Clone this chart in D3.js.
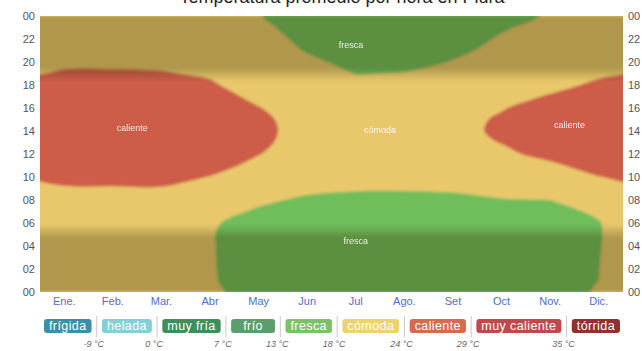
<!DOCTYPE html>
<html>
<head>
<meta charset="utf-8">
<script src="https://cdn.jsdelivr.net/npm/d3@7"></script>
<style>
  body { margin: 0; background: #fff; }
  text { font-family: "Liberation Sans", Arial, sans-serif; }
</style>
</head>
<body>
<svg id="chart"></svg>
<script>
var width = 642;
var height = 351;

var months = ["Ene.", "Feb.", "Mar.", "Abr", "May", "Jun", "Jul", "Ago.", "Set", "Oct", "Nov.", "Dic."];
var hourTicks = [0, 2, 4, 6, 8, 10, 12, 14, 16, 18, 20, 22, 24];

// temperatura promedio (°C) a las 0, 1, ... 24 h, por mes
var tEne = [21.5, 21.2, 20.9, 20.7, 20.5, 20.4, 20.6, 21.5, 22.6, 23.7, 25.0, 26.3, 27.3, 28.0, 28.3, 28.1, 27.4, 26.3, 25.2, 24.3, 23.5, 22.9, 22.4, 22.0, 21.6];
var tFeb = [22.0, 21.7, 21.4, 21.2, 21.0, 20.9, 21.1, 22.0, 23.0, 23.7, 25.3, 26.6, 27.7, 28.4, 28.7, 28.5, 27.8, 26.7, 25.6, 24.2, 23.7, 23.1, 22.6, 22.2, 22.0];
var tMar = [21.8, 21.5, 21.2, 21.0, 20.8, 20.7, 20.9, 21.8, 22.8, 23.8, 25.1, 26.4, 27.5, 28.2, 28.5, 28.3, 27.6, 26.5, 25.3, 24.2, 23.4, 22.8, 22.4, 22.0, 21.8];
var tAbr = [18.3, 18.2, 18.2, 18.2, 18.2, 18.2, 18.4, 19.4, 20.6, 22.1, 23.9, 25.1, 26.0, 26.6, 26.8, 26.5, 25.8, 25.0, 24.4, 23.6, 22.5, 21.6, 20.8, 20.1, 19.5];
var tMay = [17.3, 17.0, 16.8, 16.6, 16.5, 16.4, 16.6, 17.5, 18.7, 20.2, 21.8, 23.2, 24.1, 24.5, 24.6, 24.5, 24.1, 23.4, 22.4, 21.3, 20.4, 19.6, 19.0, 18.5, 18.1];
var tJun = [16.6, 16.3, 16.0, 15.8, 15.6, 15.5, 15.6, 16.3, 17.4, 18.8, 20.2, 21.4, 22.3, 22.9, 23.1, 23.0, 22.6, 21.8, 20.7, 19.6, 18.6, 17.8, 17.4, 17.1, 16.9];
var tJul = [16.0, 15.7, 15.4, 15.2, 15.0, 14.9, 15.0, 15.7, 17.0, 18.3, 19.7, 20.9, 21.8, 22.3, 22.5, 22.3, 21.6, 20.5, 19.0, 17.9, 17.2, 16.8, 16.5, 16.3, 16.2];
var tAgo = [15.9, 15.6, 15.3, 15.1, 14.9, 14.8, 14.9, 15.6, 16.9, 18.3, 19.8, 21.0, 22.0, 22.6, 22.8, 22.6, 21.9, 20.8, 19.3, 18.1, 17.3, 16.9, 16.6, 16.3, 16.2];
var tSet = [16.2, 15.9, 15.6, 15.4, 15.2, 15.1, 15.2, 15.9, 17.1, 18.5, 20.0, 21.3, 22.3, 22.9, 23.1, 22.9, 22.3, 21.3, 20.0, 18.9, 18.1, 17.6, 17.2, 16.9, 16.7];
var tOct = [16.8, 16.5, 16.2, 16.0, 15.8, 15.7, 15.8, 16.6, 17.8, 19.3, 20.8, 22.2, 23.3, 24.1, 24.5, 24.4, 23.8, 22.7, 21.3, 20.0, 19.0, 18.5, 18.2, 17.8, 17.3];
var tNov = [17.5, 17.2, 16.9, 16.7, 16.5, 16.4, 16.5, 17.2, 18.0, 19.8, 21.6, 23.4, 25.0, 26.0, 26.4, 26.1, 25.4, 24.3, 23.0, 21.6, 20.5, 19.7, 19.1, 18.6, 18.2];
var tDic = [18.1, 18.0, 17.95, 17.9, 17.85, 17.8, 17.85, 18.4, 20.0, 21.9, 23.9, 25.4, 26.6, 27.4, 27.8, 27.6, 26.9, 25.8, 24.6, 23.5, 22.5, 21.4, 20.5, 19.6, 19.0];
var temps = [tEne, tFeb, tMar, tAbr, tMay, tJun, tJul, tAgo, tSet, tOct, tNov, tDic];

// bandas de temperatura (leyenda)
var bandNames = ["frígida", "helada", "muy fría", "frío", "fresca", "cómoda", "caliente", "muy caliente", "tórrida"];
var bandColors = ["#3b8fa6", "#86cfd9", "#3f8e5b", "#5c9d6c", "#7cc169", "#ecd36c", "#d9694f", "#c2494b", "#922f2f"];
var bandLimits = ["-9 °C", "0 °C", "7 °C", "13 °C", "18 °C", "24 °C", "29 °C", "35 °C"];

// horas de amanecer / anochecer (sombra de la noche)
var nightHours = [5.3, 18.9];

// etiquetas dentro del mapa: texto, mes (índice), hora
var regionText = ["fresca", "caliente", "cómoda", "caliente", "fresca"];
var regionMonth = [5.9, 1.4, 6.5, 10.4, 6.0];
var regionHour = [21.5, 14.3, 14.1, 14.5, 4.4];

var svg = d3.select("#chart").attr("width", width).attr("height", height);

var x = d3.scaleLinear().domain([-0.5, 11.5]).range([40, 623]);
var y = d3.scaleLinear().domain([0, 24]).range([292, 16]);

var defs = svg.append("defs");
defs.append("clipPath").attr("id", "plotClip")
    .append("rect")
    .attr("x", x(-0.5)).attr("y", y(24))
    .attr("width", x(11.5) - x(-0.5)).attr("height", y(0) - y(24));
defs.append("filter").attr("id", "soft")
    .attr("x", "-5%").attr("y", "-5%").attr("width", "110%").attr("height", "110%")
    .append("feGaussianBlur").attr("stdDeviation", 1.6);

// sombra nocturna como gradiente vertical
var grad = defs.append("linearGradient").attr("id", "night")
    .attr("x1", 0).attr("x2", 0).attr("y1", 0).attr("y2", 1);
var tw = 0.6;
function off(h) { return (y(h) - y(24)) / (y(0) - y(24)); }
[[24, 0.3], [nightHours[1] + tw, 0.3], [nightHours[1] - tw, 0], [nightHours[0] + tw, 0], [nightHours[0] - tw, 0.3], [0, 0.3]]
    .forEach(function (s) {
        grad.append("stop").attr("offset", off(s[0]))
            .attr("stop-color", "#2a2400").attr("stop-opacity", s[1]);
    });

// rejilla con relleno: Dic antes de Ene, Ene después de Dic; horas repetidas en los bordes
var nx = 14, ny = 27;
var grid = [];
for (var r = 0; r < ny; r++) {
    var h = Math.max(0, Math.min(24, r - 1));
    for (var c = 0; c < nx; c++) {
        grid.push(temps[(c + 11) % 12][h]);
    }
}

var line = d3.line().curve(d3.curveCatmullRomClosed.alpha(0.5));
function ringPath(ring) {
    var pts = ring.slice(0, -1).map(function (p) {
        return [x(p[0] - 1.5), y(p[1] - 1.5)];
    });
    return line(pts);
}
function contourPath(geo) {
    return geo.coordinates.map(function (poly) {
        return poly.map(ringPath).join("");
    }).join("");
}

var hot = d3.contours().size([nx, ny]).thresholds([24])(grid)[0];
var cool = d3.contours().size([nx, ny]).thresholds([-18])(grid.map(function (v) { return -v; }))[0];

var plot = svg.append("g").attr("clip-path", "url(#plotClip)");
var heat = plot.append("g").attr("filter", "url(#soft)");

heat.append("rect")
    .attr("x", x(-0.5) - 10).attr("y", y(24) - 10)
    .attr("width", x(11.5) - x(-0.5) + 20).attr("height", y(0) - y(24) + 20)
    .attr("fill", "#e9c86c");

heat.append("path").attr("d", contourPath(hot))
    .attr("fill", "#cd5b49").attr("fill-rule", "evenodd");
heat.append("path").attr("d", contourPath(cool))
    .attr("fill", "#6fbd5b").attr("fill-rule", "evenodd");

heat.append("rect")
    .attr("x", x(-0.5) - 10).attr("y", y(24))
    .attr("width", x(11.5) - x(-0.5) + 20).attr("height", y(0) - y(24))
    .attr("fill", "url(#night)");

plot.selectAll("text.region")
    .data(regionText)
    .enter().append("text")
    .attr("class", "region")
    .attr("x", function (d, i) { return x(regionMonth[i]); })
    .attr("y", function (d, i) { return y(regionHour[i]) + 3; })
    .attr("text-anchor", "middle")
    .style("font-size", "9px")
    .style("fill", "#fff")
    .style("opacity", 0.85)
    .text(function (d) { return d; });

// título (casi fuera de la imagen, como en la referencia)
svg.append("text")
    .attr("x", 342).attr("y", 3)
    .attr("text-anchor", "middle")
    .style("font-size", "18px")
    .style("fill", "#222")
    .text("Temperatura promedio por hora en Piura");

// ejes de horas a ambos lados
var hourFmt = function (h) { return d3.format("02")(h % 24); };
svg.append("g").selectAll("text")
    .data(hourTicks).enter().append("text")
    .attr("x", 35).attr("y", function (d) { return y(d) + 4; })
    .attr("text-anchor", "end")
    .style("font-size", "11px").style("fill", "#555")
    .text(hourFmt);
svg.append("g").selectAll("text")
    .data(hourTicks).enter().append("text")
    .attr("x", 628).attr("y", function (d) { return y(d) + 4; })
    .attr("text-anchor", "start")
    .style("font-size", "11px").style("fill", "#555")
    .text(hourFmt);

// meses
svg.append("g").selectAll("text")
    .data(months).enter().append("text")
    .attr("x", function (d, i) { return x(i); })
    .attr("y", 305)
    .attr("text-anchor", "middle")
    .style("font-size", "11px").style("fill", "#4d6fc4")
    .text(function (d) { return d; });

// leyenda
var legend = svg.append("g");
var pills = legend.selectAll("g")
    .data(bandNames).enter().append("g");
var pillText = pills.append("text")
    .attr("y", 330)
    .attr("text-anchor", "middle")
    .style("font-size", "12.5px")
    .style("letter-spacing", "0.4px")
    .style("fill", "#fff")
    .text(function (d) { return d; });

var widths = [];
pillText.each(function () { widths.push(Math.max(44, this.getComputedTextLength() + 10)); });
var lx0 = 44, lx1 = 620;
var gap = (lx1 - lx0 - d3.sum(widths)) / (widths.length - 1);
var starts = [];
var acc = lx0;
widths.forEach(function (w) { starts.push(acc); acc += w + gap; });

pills.insert("rect", "text")
    .attr("x", function (d, i) { return starts[i]; })
    .attr("y", 319)
    .attr("width", function (d, i) { return widths[i]; })
    .attr("height", 14)
    .attr("rx", 3)
    .attr("fill", function (d, i) { return bandColors[i]; });
pillText.attr("x", function (d, i) { return starts[i] + widths[i] / 2; });

var seps = bandLimits.map(function (d, i) { return starts[i + 1] - gap / 2; });
legend.selectAll("line")
    .data(seps).enter().append("line")
    .attr("x1", function (d) { return d; }).attr("x2", function (d) { return d; })
    .attr("y1", 316).attr("y2", 337)
    .attr("stroke", "#c8c8c8").attr("stroke-width", 1);
legend.selectAll("text.lim")
    .data(bandLimits).enter().append("text")
    .attr("class", "lim")
    .attr("x", function (d, i) { return seps[i] - 3; })
    .attr("y", 347)
    .attr("text-anchor", "middle")
    .style("font-size", "9px").style("font-style", "italic").style("fill", "#666")
    .text(function (d) { return d; });
</script>
</body>
</html>
